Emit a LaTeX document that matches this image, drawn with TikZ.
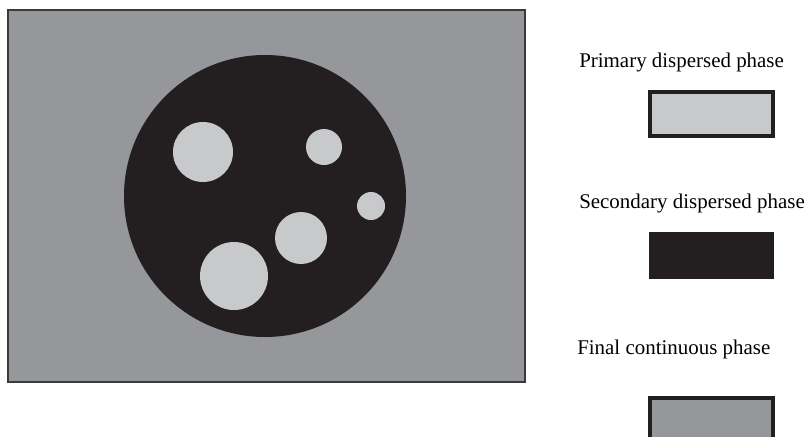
\documentclass[tikz,border=0pt]{standalone}
\usepackage{fontspec}
\setmainfont{Liberation Serif}
\definecolor{contgray}{HTML}{96979A}
\definecolor{primgray}{HTML}{C8C9CB}
\definecolor{secdark}{HTML}{231F20}
\definecolor{edgedark}{HTML}{3A3A3A}
\tikzset{
  lbl/.style={anchor=west, inner sep=0pt, font=\fontsize{15.7}{18}\selectfont},
  legbox/.style={draw=secdark, line width=2.6pt},
  drop/.style={fill=primgray, draw=none},
}
\begin{document}
\begin{tikzpicture}[x=0.75pt, y=-0.75pt]
\useasboundingbox (0,0) rectangle (807,436);
\clip (0,0) rectangle (807,436);
% main continuous phase
\draw[fill=contgray, draw=edgedark, line width=2.2pt] (8,10) rectangle (525,382);
% secondary dispersed phase (large drop)
\fill[secdark] (265,196) circle (141);
% primary drops
\fill[drop] (203,152) circle (30);
\fill[drop] (324,147) circle (18);
\fill[drop] (371,206) circle (14);
\fill[drop] (301,238) circle (26);
\fill[drop] (234,276) circle (34);
% legend
\node[lbl] (t1) at (579,62) {Primary dispersed phase};
\draw[legbox, fill=primgray] (650,92) rectangle (773,136);
\node[lbl] (t2) at (579,203) {Secondary dispersed phase};
\fill[secdark] (649,232) rectangle (774,279);
\node[lbl] (t3) at (577,349) {Final continuous phase};
\draw[legbox, fill=contgray] (650,398) rectangle (773,445);
\end{tikzpicture}
\end{document}
